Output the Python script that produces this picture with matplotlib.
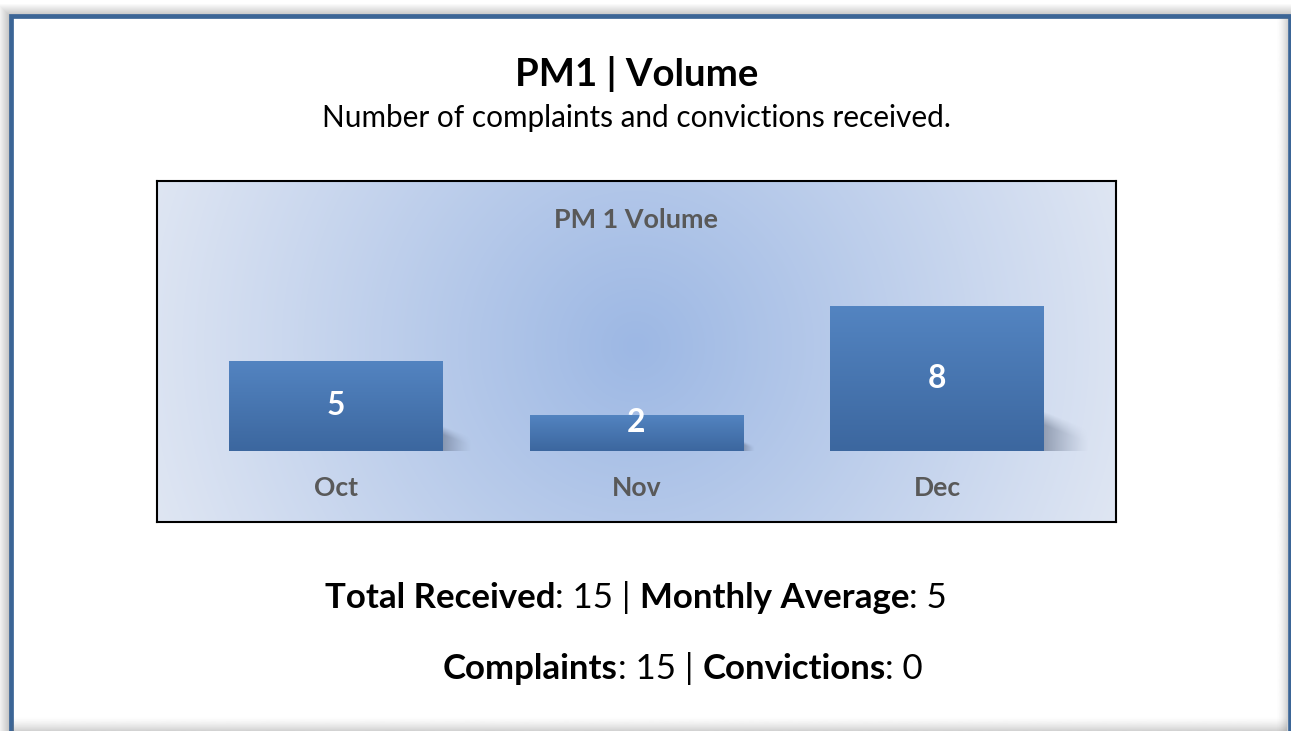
import numpy as np
import matplotlib.pyplot as plt
from matplotlib.patches import Rectangle
from matplotlib.colors import LinearSegmentedColormap, to_rgb

# data
months = ['Oct', 'Nov', 'Dec']
volume = [5, 2, 8]
complaints = 15
convictions = 0

heading = 'PM1 | Volume'
subheading = 'Number of complaints and convictions received.'
chart_title = 'PM 1 Volume'

FONT = ['Lato', 'DejaVu Sans']
W, H = 1291, 731
GREY = '#595959'

plt.rcParams['font.family'] = FONT

fig = plt.figure(figsize=(W / 100, H / 100), dpi=100)
renderer = fig.canvas.get_renderer()


def text_width(s, size, weight):
    t = fig.text(0, 0, s, fontsize=size, fontweight=weight)
    w = t.get_window_extent(renderer).width
    t.remove()
    return w


def advance(s, size, weight):
    # sentinel bars so spaces at the ends are counted
    return text_width('|' + s + '|', size, weight) - text_width('||', size, weight)


def fit(s, px, weight):
    return 20 * px / text_width(s, 20, weight)


def mixed_line(ax, parts, xc, y, size):
    total = sum(advance(p, size, 'bold' if b else 'normal') for p, b in parts)
    x = xc - total / 2
    for p, b in parts:
        wt = 'bold' if b else 'normal'
        ax.text(x, y, p, fontsize=size, fontweight=wt, ha='left', va='baseline', color='black')
        x += advance(p, size, wt)


# page background: shadow, blue frame, white sheet
bg = fig.add_axes([0, 0, 1, 1])
bg.axis('off')
for k in range(13):
    bg.add_patch(Rectangle((10 - k, 16 - k), 1280 + 2 * k, H + 20,
                           facecolor='black', alpha=0.02, lw=0, zorder=0))
bg.add_patch(Rectangle((10.5, 16), 1279, H + 20, facecolor='white',
                       edgecolor='#3b6596', lw=3.4, zorder=1))

ramp = np.linspace(0, 1, 32) ** 1.6 * 0.3
side = np.zeros((1, 32, 4))
side[..., :3] = 0.4
side[0, :, 3] = ramp
bg.imshow(side, extent=(1276, 1288, H, 18), aspect='auto', interpolation='bilinear', zorder=2)
bottom = np.zeros((32, 1, 4))
bottom[..., :3] = 0.4
bottom[:, 0, 3] = ramp
bg.imshow(bottom, extent=(12, 1287, H, 716), aspect='auto', interpolation='bilinear', zorder=2)
bg.set_xlim(0, W)
bg.set_ylim(H, 0)

# headings
bg.text(636.5, 86, heading, fontsize=fit(heading, 243, 'bold'), fontweight='bold',
        ha='center', va='baseline')
bg.text(636.5, 127, subheading, fontsize=fit(subheading, 630, 'normal'),
        ha='center', va='baseline')

# summary lines
total = sum(volume)
average = total / len(volume)
line1 = [('Total Received', True), (f': {total} | ', False),
         ('Monthly Average', True), (f': {average:g}', False)]
line2 = [('Complaints', True), (f': {complaints} | ', False),
         ('Convictions', True), (f': {convictions}', False)]
w1 = sum(advance(p, 20, 'bold' if b else 'normal') for p, b in line1)
size_sum = 20 * 624 / w1
mixed_line(bg, line1, 636, 608, size_sum)
mixed_line(bg, line2, 683, 679, size_sum)

# chart box
ax = fig.add_axes([157 / W, 1 - 522 / H, 959 / W, 341 / H])
x = np.arange(len(months))
xlim = (-0.596, 2.596)
ylim = (-3.92, 14.92)

gx, gy = np.meshgrid(np.linspace(0, 959, 240), np.linspace(0, 341, 90))
r = np.clip(np.hypot(gx - 479, gy - 165) / 520, 0, 1)
glow = LinearSegmentedColormap.from_list('glow', ['#9db8e4', '#dfe6f3'])
ax.imshow(r, cmap=glow, extent=(*xlim, *ylim), origin='upper', aspect='auto',
          interpolation='bilinear', zorder=0)

bars = ax.bar(x, volume, width=0.712, color='#4a7ab4', zorder=3)
grad = LinearSegmentedColormap.from_list('bar', ['#3c679f', '#5384c1'])
shadow_rgb = to_rgb('#5f6b82')
for b, v in zip(bars, volume):
    x0, w, h = b.get_x(), b.get_width(), b.get_height()
    # soft shadow behind the right edge
    U, V = np.meshgrid(np.linspace(0, 1, 40), np.linspace(0, 1, 40))
    alpha = 0.55 * (1 - U) ** 1.2 * np.clip((1 - 0.45 * U - V) / 0.35, 0, 1)
    img = np.zeros((40, 40, 4))
    img[..., :3] = shadow_rgb
    img[..., 3] = alpha
    ax.imshow(img, extent=(x0 + w, x0 + w + 0.0187 * v, 0, 0.27 * v), origin='lower',
              aspect='auto', interpolation='bilinear', zorder=2)
    im = ax.imshow(np.linspace(0, 1, 64).reshape(-1, 1), cmap=grad,
                   extent=(x0, x0 + w, 0, h), origin='lower', aspect='auto', zorder=4)
    im.set_clip_path(b)

lab_size = fit('Oct', 44, 'bold')
for xi, v, m in zip(x, volume, months):
    ax.text(xi, max(v / 2, 1.6), str(v), fontsize=lab_size * 1.2, fontweight='bold',
            color='white', ha='center', va='center', zorder=5)
    ax.text(xi, -2.04, m, fontsize=lab_size, fontweight='bold', color=GREY,
            ha='center', va='center', zorder=5)

ax.text(0.5, (522 - 220) / 341, chart_title, transform=ax.transAxes,
        fontsize=fit(chart_title, 164, 'bold'), fontweight='bold', color=GREY,
        ha='center', va='center', zorder=5)

ax.set_xlim(*xlim)
ax.set_ylim(*ylim)
ax.set_xticks([])
ax.set_yticks([])
for s in ax.spines.values():
    s.set_color('black')
    s.set_linewidth(1.5)

fig.savefig('out.png', dpi=100)
